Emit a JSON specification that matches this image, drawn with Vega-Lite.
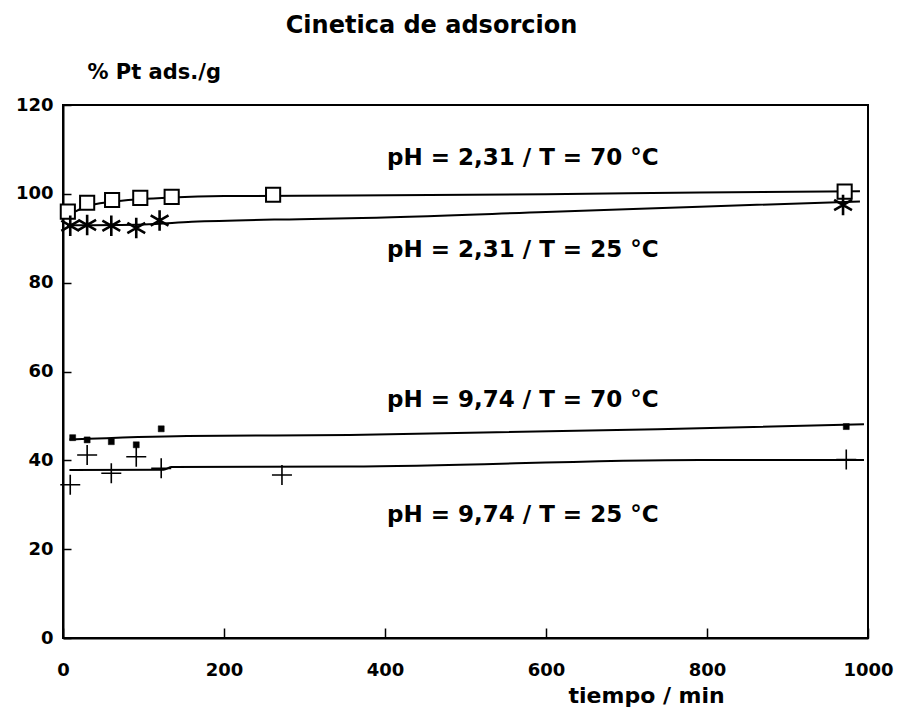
{
  "$schema": "https://vega.github.io/schema/vega-lite/v6.json",
  "width": 805,
  "height": 533,
  "autosize": {"type": "none"},
  "padding": {"left": 63, "top": 105, "right": 32, "bottom": 78},
  "background": "white",
  "config": {
    "font": "DejaVu Sans",
    "view": {"stroke": "black", "strokeWidth": 2},
    "axis": {
      "grid": false,
      "domainColor": "black",
      "domainWidth": 2,
      "tickColor": "black",
      "tickWidth": 1.5,
      "labelFont": "DejaVu Sans",
      "labelFontWeight": "bold",
      "labelFontSize": 18,
      "labelColor": "black",
      "titleFont": "DejaVu Sans",
      "titleFontWeight": "bold",
      "titleColor": "black"
    }
  },
  "title": {
    "text": "Cinetica de adsorcion",
    "font": "DejaVu Sans",
    "fontSize": 24,
    "fontWeight": "bold",
    "color": "black",
    "anchor": "middle",
    "dx": -34,
    "dy": -19
  },
  "datasets": {
    "points": [
      {"serie": "sq70", "t": 6, "v": 96.0},
      {"serie": "sq70", "t": 30, "v": 98.0},
      {"serie": "sq70", "t": 61, "v": 98.6},
      {"serie": "sq70", "t": 96, "v": 99.1},
      {"serie": "sq70", "t": 135, "v": 99.3},
      {"serie": "sq70", "t": 261, "v": 99.8},
      {"serie": "sq70", "t": 971, "v": 100.5},
      {"serie": "st25", "t": 9, "v": 92.8},
      {"serie": "st25", "t": 30, "v": 93.0},
      {"serie": "st25", "t": 60, "v": 92.8},
      {"serie": "st25", "t": 91, "v": 92.3},
      {"serie": "st25", "t": 120, "v": 94.0},
      {"serie": "st25", "t": 969, "v": 97.5},
      {"serie": "fs70", "t": 12, "v": 45.1},
      {"serie": "fs70", "t": 30, "v": 44.6},
      {"serie": "fs70", "t": 60, "v": 44.2},
      {"serie": "fs70", "t": 91, "v": 43.5},
      {"serie": "fs70", "t": 122, "v": 47.1},
      {"serie": "fs70", "t": 973, "v": 47.6},
      {"serie": "cr25", "t": 9, "v": 34.5},
      {"serie": "cr25", "t": 30, "v": 41.2},
      {"serie": "cr25", "t": 60, "v": 37.1},
      {"serie": "cr25", "t": 91, "v": 40.8},
      {"serie": "cr25", "t": 122, "v": 38.2},
      {"serie": "cr25", "t": 272, "v": 36.7},
      {"serie": "cr25", "t": 973, "v": 40.2}
    ],
    "fits": [
      {"serie": "sq70", "t": 15, "v": 96.0},
      {"serie": "sq70", "t": 30, "v": 97.2},
      {"serie": "sq70", "t": 60, "v": 98.2},
      {"serie": "sq70", "t": 95, "v": 98.8},
      {"serie": "sq70", "t": 135, "v": 99.2},
      {"serie": "sq70", "t": 200, "v": 99.5},
      {"serie": "sq70", "t": 356, "v": 99.6},
      {"serie": "sq70", "t": 600, "v": 99.9},
      {"serie": "sq70", "t": 791, "v": 100.3},
      {"serie": "sq70", "t": 990, "v": 100.6},
      {"serie": "st25", "t": 5, "v": 92.9},
      {"serie": "st25", "t": 100, "v": 93.1},
      {"serie": "st25", "t": 160, "v": 93.7},
      {"serie": "st25", "t": 294, "v": 94.3},
      {"serie": "st25", "t": 356, "v": 94.5},
      {"serie": "st25", "t": 600, "v": 95.9},
      {"serie": "st25", "t": 791, "v": 97.1},
      {"serie": "st25", "t": 990, "v": 98.3},
      {"serie": "fs70", "t": 8, "v": 44.7},
      {"serie": "fs70", "t": 154, "v": 45.5},
      {"serie": "fs70", "t": 356, "v": 45.7},
      {"serie": "fs70", "t": 791, "v": 47.2},
      {"serie": "fs70", "t": 995, "v": 48.1},
      {"serie": "cr25", "t": 8, "v": 37.8},
      {"serie": "cr25", "t": 125, "v": 37.9},
      {"serie": "cr25", "t": 135, "v": 38.5},
      {"serie": "cr25", "t": 356, "v": 38.6},
      {"serie": "cr25", "t": 791, "v": 40.1},
      {"serie": "cr25", "t": 995, "v": 40.1}
    ],
    "labels": [
      {"label": "pH = 2,31 / T = 70 °C", "t": 402.5, "v": 106.5},
      {"label": "pH = 2,31 / T = 25 °C", "t": 402.5, "v": 85.8},
      {"label": "pH = 9,74 / T = 70 °C", "t": 402.5, "v": 52.0},
      {"label": "pH = 9,74 / T = 25 °C", "t": 402.5, "v": 26.1}
    ]
  },
  "encoding": {
    "x": {
      "field": "t",
      "type": "quantitative",
      "scale": {"domain": [0, 1000], "nice": false, "zero": false},
      "axis": {
        "values": [0, 200, 400, 600, 800, 1000],
        "format": "d",
        "tickSize": -10,
        "labelPadding": 33,
        "labelFlush": false,
        "title": "tiempo / min",
        "titleFontSize": 22,
        "titleAlign": "left",
        "titleBaseline": "alphabetic",
        "titleX": 505,
        "titleY": 64
      }
    },
    "y": {
      "field": "v",
      "type": "quantitative",
      "scale": {"domain": [0, 120], "nice": false, "zero": false},
      "axis": {
        "values": [0, 20, 40, 60, 80, 100, 120],
        "format": "d",
        "tickSize": -8,
        "labelPadding": 18,
        "labelFlush": false,
        "title": "% Pt ads./g",
        "titleFontSize": 21,
        "titleAngle": 0,
        "titleAlign": "left",
        "titleBaseline": "alphabetic",
        "titleX": 24,
        "titleY": -27
      }
    }
  },
  "layer": [
    {
      "data": {"name": "fits"},
      "mark": {"type": "line", "color": "black", "strokeWidth": 2, "interpolate": "monotone"},
      "encoding": {"detail": {"field": "serie"}}
    },
    {
      "data": {"name": "points"},
      "transform": [{"filter": "datum.serie === 'sq70'"}],
      "mark": {"type": "point", "shape": "square", "size": 200, "filled": true, "fill": "white", "stroke": "black", "strokeWidth": 2, "opacity": 1}
    },
    {
      "data": {"name": "points"},
      "transform": [{"filter": "datum.serie === 'st25'"}],
      "mark": {"type": "point", "shape": "M0,-1V1M-0.87,-0.5L0.87,0.5M-0.87,0.5L0.87,-0.5", "size": 420, "filled": false, "stroke": "black", "strokeWidth": 2.6, "opacity": 1}
    },
    {
      "data": {"name": "points"},
      "transform": [{"filter": "datum.serie === 'fs70'"}],
      "mark": {"type": "point", "shape": "square", "size": 36, "filled": true, "fill": "black", "stroke": "black", "strokeWidth": 0.5, "opacity": 1}
    },
    {
      "data": {"name": "points"},
      "transform": [{"filter": "datum.serie === 'cr25'"}],
      "mark": {"type": "point", "shape": "M-1,0H1M0,-1V1", "size": 400, "filled": false, "stroke": "black", "strokeWidth": 1.6, "opacity": 1}
    },
    {
      "data": {"name": "labels"},
      "mark": {"type": "text", "align": "left", "baseline": "alphabetic", "font": "DejaVu Sans", "fontWeight": "bold", "fontSize": 23, "color": "black"},
      "encoding": {"text": {"field": "label"}}
    }
  ]
}
